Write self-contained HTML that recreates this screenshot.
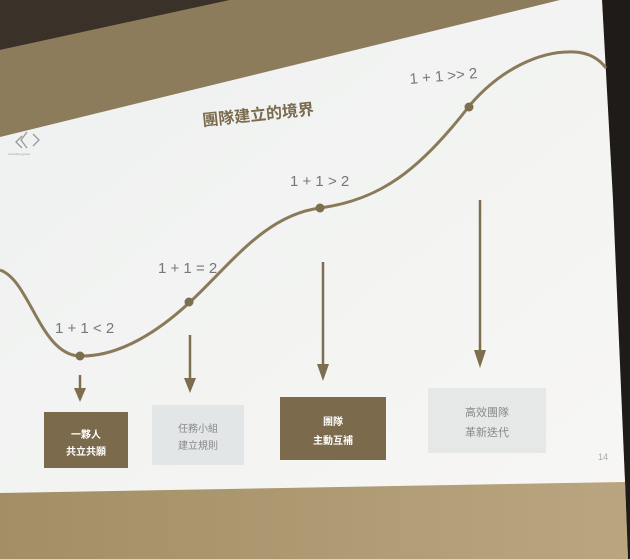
<!DOCTYPE html>
<html><head><meta charset="utf-8"><style>
body{margin:0;width:630px;height:559px;overflow:hidden;background:#a8966f}
svg{display:block}
text{font-family:"Liberation Sans","Noto Sans CJK TC",sans-serif}
</style></head><body>
<svg width="630" height="559" viewBox="0 0 630 559" xmlns="http://www.w3.org/2000/svg">
<defs>
<linearGradient id="wall" x1="0" y1="0" x2="1" y2="1"><stop offset="0" stop-color="#8f7f5e"/><stop offset="1" stop-color="#b5a27a"/></linearGradient>
<linearGradient id="scr" x1="0" y1="0" x2="1" y2="1"><stop offset="0" stop-color="#eef1f0"/><stop offset="1" stop-color="#f7f6f4"/></linearGradient>
<linearGradient id="floor" x1="0" y1="0" x2="1" y2="0"><stop offset="0" stop-color="#a38f65"/><stop offset="1" stop-color="#b9a57f"/></linearGradient>
</defs>
<rect width="630" height="559" fill="url(#wall)"/>
<polygon points="0,0 230,0 0,50" fill="#3a3128"/>
<polygon points="0,50 230,0 560,0 0,137" fill="#8d7c5b"/>
<polygon points="602,0 630,0 630,559 628,559 625,483" fill="#1e1b18"/>
<polygon points="0,490 625,480 628,559 0,559" fill="url(#floor)"/>
<polygon points="0,137 560,0 602,0 613,200 625,482 0,493" fill="url(#scr)"/>
<path d="M0,270 C30,280 40,355 80,356 C120,357 160,330 190,302 C230,265 265,215 320,208 C380,200 420,170 470,105 C500,70 540,50 575,52 C590,53 600,60 606,68" fill="none" stroke="#8a7a5a" stroke-width="3"/>
<g fill="#7e6e50">
<circle cx="80" cy="356" r="4.5"/><circle cx="189" cy="302" r="4.5"/><circle cx="320" cy="208" r="4.5"/><circle cx="469" cy="107" r="4.5"/>
</g>
<g stroke="#7e6e50" stroke-width="2.5">
<line x1="80" y1="375" x2="80" y2="390"/><line x1="190" y1="335" x2="190" y2="380"/><line x1="323" y1="262" x2="323" y2="366"/><line x1="480" y1="200" x2="480" y2="352"/>
</g>
<g fill="#7e6e50">
<polygon points="74,388 86,388 80,402"/><polygon points="184,378 196,378 190,393"/><polygon points="317,364 329,364 323,381"/><polygon points="474,350 486,350 480,368"/>
</g>
<g fill="#777" font-size="15">
<text x="55" y="333">1 + 1 &lt; 2</text>
<text x="158" y="273">1 + 1 = 2</text>
<text x="290" y="186">1 + 1 &gt; 2</text>
<text x="410" y="84" transform="rotate(-5 410 84)">1 + 1 &gt;&gt; 2</text>
</g>
<text x="203" y="126" font-size="16" fill="#7a6a4e" font-weight="bold" transform="rotate(-6 203 126)">團隊建立的境界</text>
<g stroke="#999" fill="none" stroke-width="1.3"><path d="M22,136 l-6,6 6,6"/><path d="M27,132 l-6,8 6,8"/><path d="M33,134 l6,6 -6,6"/></g>
<text x="8" y="155" font-size="3" fill="#999">consulting group</text>
<rect x="44" y="412" width="84" height="56" fill="#7b6b4c"/>
<rect x="152" y="405" width="92" height="60" fill="#e3e6e6"/>
<rect x="280" y="397" width="106" height="63" fill="#7b6b4c"/>
<rect x="428" y="388" width="118" height="65" fill="#e6e8e8"/>
<g font-size="10" text-anchor="middle">
<text x="86" y="438" fill="#fff" font-weight="bold">一夥人</text>
<text x="86" y="455" fill="#fff" font-weight="bold">共立共願</text>
<text x="198" y="432" fill="#888">任務小組</text>
<text x="198" y="449" fill="#888">建立規則</text>
<text x="333" y="425" fill="#fff" font-weight="bold">團隊</text>
<text x="333" y="444" fill="#fff" font-weight="bold">主動互補</text>
<text x="487" y="416" fill="#888" font-size="11">高效團隊</text>
<text x="487" y="436" fill="#888" font-size="11">革新迭代</text>
</g>
<text x="598" y="460" font-size="9" fill="#aaa">14</text>
</svg>
</body></html>
